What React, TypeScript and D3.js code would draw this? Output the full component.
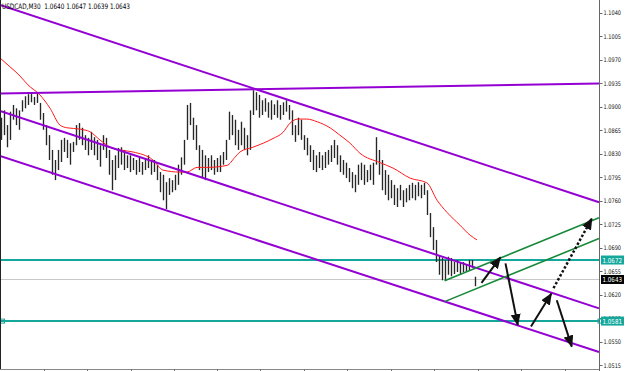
import React from "react";
import * as d3 from "d3";

// ---------- DATA ----------
const symbolTitle = "USDCAD,M30";
const ohlcText = ["1.0640", "1.0647", "1.0639", "1.0643"];

const highs = [
  1.0884, 1.0895, 1.0873, 1.0893, 1.0903, 1.0898, 1.0895, 1.0910, 1.0916, 1.0919,
  1.0921, 1.0915, 1.0921, 1.0906, 1.0891, 1.0873, 1.0858, 1.0836, 1.0821, 1.0836,
  1.0851, 1.0854, 1.0851, 1.0846, 1.0848, 1.0873, 1.0876, 1.0869, 1.0858, 1.0854,
  1.0863, 1.0855, 1.0851, 1.0843, 1.0858, 1.0854, 1.0836, 1.0821, 1.0828, 1.0839,
  1.0840, 1.0836, 1.0828, 1.0828, 1.0824, 1.0821, 1.0824, 1.0818, 1.0824, 1.0828,
  1.0821, 1.0821, 1.0814, 1.0803, 1.0799, 1.0788, 1.0794, 1.0791, 1.0799, 1.0814,
  1.0825, 1.0851, 1.0903, 1.0906, 1.0884, 1.0873, 1.0843, 1.0836, 1.0828, 1.0824,
  1.0828, 1.0821, 1.0824, 1.0828, 1.0833, 1.0851, 1.0893, 1.0888, 1.0881, 1.0866,
  1.0878, 1.0869, 1.0858, 1.0895, 1.0925, 1.0922, 1.0918, 1.0910, 1.0913, 1.0907,
  1.0910, 1.0904, 1.0910, 1.0903, 1.0907, 1.0910, 1.0903, 1.0895, 1.0873, 1.0884,
  1.0881, 1.0858, 1.0854, 1.0843, 1.0836, 1.0828, 1.0833, 1.0828, 1.0833, 1.0836,
  1.0843, 1.0851, 1.0843, 1.0828, 1.0821, 1.0817, 1.0809, 1.0803, 1.0799, 1.0814,
  1.0817, 1.0814, 1.0806, 1.0814, 1.0817, 1.0855, 1.0836, 1.0821, 1.0806, 1.0799,
  1.0791, 1.0784, 1.0779, 1.0784, 1.0776, 1.0779, 1.0784, 1.0787, 1.0784, 1.0788,
  1.0784, 1.0787, 1.0776, 1.0742, 1.0721, 1.0702, 1.0679, 1.0675, 1.0672, 1.0677,
  1.0675, 1.0669, 1.0672, 1.0668, 1.0669, 1.0665, 1.0672, 1.0672, 1.0647,
];
const lows = [
  1.0851, 1.0858, 1.0840, 1.0851, 1.0881, 1.0873, 1.0866, 1.0893, 1.0898, 1.0903,
  1.0907, 1.0903, 1.0906, 1.0881, 1.0866, 1.0843, 1.0821, 1.0799, 1.0791, 1.0806,
  1.0818, 1.0833, 1.0824, 1.0814, 1.0833, 1.0843, 1.0851, 1.0843, 1.0836, 1.0828,
  1.0836, 1.0828, 1.0821, 1.0811, 1.0836, 1.0824, 1.0799, 1.0776, 1.0791, 1.0809,
  1.0814, 1.0806, 1.0809, 1.0803, 1.0806, 1.0799, 1.0803, 1.0799, 1.0806, 1.0809,
  1.0799, 1.0803, 1.0791, 1.0773, 1.0761, 1.0748, 1.0769, 1.0773, 1.0776, 1.0784,
  1.0799, 1.0814, 1.0851, 1.0873, 1.0851, 1.0836, 1.0806, 1.0794, 1.0791, 1.0803,
  1.0806, 1.0799, 1.0803, 1.0803, 1.0814, 1.0821, 1.0851, 1.0858, 1.0843, 1.0836,
  1.0843, 1.0836, 1.0828, 1.0836, 1.0888, 1.0895, 1.0884, 1.0888, 1.0893, 1.0884,
  1.0881, 1.0888, 1.0884, 1.0881, 1.0888, 1.0893, 1.0881, 1.0858, 1.0848, 1.0858,
  1.0851, 1.0836, 1.0828, 1.0818, 1.0806, 1.0803, 1.0809, 1.0806, 1.0809, 1.0814,
  1.0818, 1.0824, 1.0814, 1.0803, 1.0799, 1.0794, 1.0788, 1.0779, 1.0773, 1.0784,
  1.0791, 1.0784, 1.0788, 1.0791, 1.0784, 1.0814, 1.0799, 1.0776, 1.0769, 1.0761,
  1.0764, 1.0754, 1.0751, 1.0761, 1.0751, 1.0758, 1.0761, 1.0764, 1.0761, 1.0767,
  1.0764, 1.0769, 1.0739, 1.0706, 1.0687, 1.0669, 1.0650, 1.0642, 1.0641, 1.0650,
  1.0648, 1.0651, 1.0654, 1.0650, 1.0654, 1.0654, 1.0657, 1.0660, 1.0633,
];

// moving average (bar index, price)
const maIdx = [
  -0.5, 2.8, 6.2, 8.8, 12.8, 16.2, 19.5, 21.8, 26.2, 29.5, 32.8, 36.2, 39.5, 43.8,
  50.5, 53.8, 59.5, 61.8, 65.2, 68.5, 75.2, 77.8, 79.5, 83.8, 87.2, 90.5, 93.8,
  96.2, 98.8, 101.8, 105.2, 109.5, 112.8, 116.2, 119.5, 126.2, 130.5, 136.2,
  141.8, 145.2, 148.5, 152.8, 156.2, 158.5,
];
const maVals = [
  1.0973, 1.0960, 1.0946, 1.0933, 1.0918, 1.0898, 1.0873, 1.0869, 1.0867, 1.0863,
  1.0851, 1.0840, 1.0836, 1.0833, 1.0821, 1.0806, 1.0803, 1.0803, 1.0810, 1.0810,
  1.0813, 1.0825, 1.0833, 1.0840, 1.0846, 1.0853, 1.0862, 1.0876, 1.0882, 1.0882,
  1.0878, 1.0869, 1.0858, 1.0846, 1.0831, 1.0817, 1.0809, 1.0794, 1.0787, 1.0761,
  1.0743, 1.0724, 1.0709, 1.0702,
];

// trend lines: [index1, price1, index2, price2]
const purpleLines = [
  [-0.5, 1.1052, 199.17, 1.0758],
  [-0.5, 1.092, 199.17, 1.0935],
  [-0.5, 1.0894, 199.17, 1.06],
  [-0.5, 1.0827, 199.17, 1.0535],
];
const greenLines = [
  [147.7, 1.0641, 199.17, 1.0735],
  [147.7, 1.061, 199.17, 1.0704],
];
const levels = [1.0672, 1.0581];
const bidPrice = 1.0643;

// arrows: [index1, price1, index2, price2]
const solidArrows = [
  [160.0, 1.0638, 166.3, 1.0676],
  [168.0, 1.0667, 172.1, 1.0575],
  [176.5, 1.0573, 183.3, 1.0622],
  [185.1, 1.0612, 190.1, 1.0543],
];
const dottedArrows = [[184.0, 1.063, 196.8, 1.0734]];

const priceTicks = [
  1.104, 1.1005, 1.097, 1.0935, 1.09, 1.0865, 1.083, 1.0795, 1.076, 1.0725,
  1.069, 1.0655, 1.062, 1.0585, 1.055, 1.0515,
];
const timeTicks = [
  14.13, 28.43, 43.06, 57.36, 71.99, 86.28, 100.9, 115.2, 129.8, 144.1, 158.8,
  173.1, 187.7,
];

// ---------- CHART ----------
const W = 625;
const H = 371;
const plotRight = 599.5;
const plotBottom = 369.5;

export default function App() {
  const x = d3.scaleLinear().domain([-0.5, 199.17]).range([0, 599]);
  const y = d3.scaleLinear().domain([1.0515, 1.104]).range([365.4, 13.0]);

  const maLine = d3
    .line<number>()
    .x((_, i) => x(maIdx[i]))
    .y((d) => y(d))
    .curve(d3.curveMonotoneX);

  const font = "'DejaVu Sans', Verdana, sans-serif";
  const purple = "#9400d3";
  const green = "#17893a";
  const teal = "#14a89d";

  const fmt = (v: number) => v.toFixed(4);
  const titleString = symbolTitle + "  " + ohlcText.join(" ");

  return (
    <svg
      width={W}
      height={H}
      style={{ position: "absolute", left: 0, top: 0, background: "#fff" }}
    >
      <defs>
        <clipPath id="plot">
          <rect x={0} y={0} width={plotRight} height={plotBottom} />
        </clipPath>
        <marker
          id="head"
          markerUnits="userSpaceOnUse"
          markerWidth={12}
          markerHeight={10}
          refX={11}
          refY={5}
          orient="auto"
        >
          <path d="M0,0 L12,5 L0,10 Z" fill="#111" />
        </marker>
      </defs>
      <rect x={0} y={0} width={W} height={H} fill="#fff" />

      <g clipPath="url(#plot)">
        {/* bid line */}
        <line x1={0} x2={plotRight} y1={y(bidPrice)} y2={y(bidPrice)} stroke="#c8c8c8" strokeWidth={1} />

        {/* horizontal levels */}
        {levels.map((v, k) => (
          <line key={"lv" + k} x1={0} x2={plotRight} y1={y(v)} y2={y(v)} stroke={teal} strokeWidth={2} />
        ))}
        <rect x={0.5} y={y(levels[1]) - 2} width={4} height={4} fill="none" stroke={teal} strokeWidth={1} />

        {/* price bars */}
        {highs.map((h, i) => (
          <line
            key={"b" + i}
            x1={x(i)}
            x2={x(i)}
            y1={y(h)}
            y2={y(lows[i])}
            stroke="#262626"
            strokeWidth={1.35}
          />
        ))}

        {/* moving average */}
        <path d={maLine(maVals) || ""} fill="none" stroke="#ff1a1a" strokeWidth={1} />

        {/* purple channel lines */}
        {purpleLines.map((l, k) => (
          <line key={"p" + k} x1={x(l[0])} y1={y(l[1])} x2={x(l[2])} y2={y(l[3])} stroke={purple} strokeWidth={2} />
        ))}

        {/* green channel */}
        {greenLines.map((l, k) => (
          <line key={"g" + k} x1={x(l[0])} y1={y(l[1])} x2={x(l[2])} y2={y(l[3])} stroke={green} strokeWidth={1.6} />
        ))}

        {/* arrows */}
        {solidArrows.map((a, k) => (
          <line
            key={"a" + k}
            x1={x(a[0])}
            y1={y(a[1])}
            x2={x(a[2])}
            y2={y(a[3])}
            stroke="#111"
            strokeWidth={2}
            markerEnd="url(#head)"
          />
        ))}
        {dottedArrows.map((a, k) => (
          <line
            key={"d" + k}
            x1={x(a[0])}
            y1={y(a[1])}
            x2={x(a[2])}
            y2={y(a[3])}
            stroke="#111"
            strokeWidth={2.5}
            strokeDasharray="2.5,2"
            markerEnd="url(#head)"
          />
        ))}
      </g>

      {/* frame */}
      <line x1={0.5} x2={0.5} y1={0} y2={plotBottom} stroke="#222" strokeWidth={1} />
      <line x1={0} x2={plotRight} y1={plotBottom} y2={plotBottom} stroke="#888" strokeWidth={1} />
      <line x1={plotRight} x2={plotRight} y1={0} y2={H} stroke="#666" strokeWidth={1} />

      {/* time ticks */}
      {timeTicks.map((t, k) => (
        <line key={"tt" + k} x1={Math.round(x(t)) + 0.5} x2={Math.round(x(t)) + 0.5} y1={plotBottom} y2={H} stroke="#666" strokeWidth={1} />
      ))}

      {/* price axis */}
      {priceTicks.map((v, k) => (
        <g key={"pt" + k}>
          <line x1={plotRight} x2={plotRight + 3} y1={Math.round(y(v)) + 0.5} y2={Math.round(y(v)) + 0.5} stroke="#666" />
          <text
            x={603.5}
            y={y(v) + 2.3}
            fontSize={6.3}
            fontFamily={font}
            fill="#111"
            textLength={17.5}
            lengthAdjust="spacingAndGlyphs"
          >
            {fmt(v)}
          </text>
        </g>
      ))}

      {/* level price boxes */}
      {levels.map((v, k) => (
        <g key={"lb" + k}>
          <rect x={601} y={y(v) - 4.5} width={23} height={9} fill={teal} />
          <text
            x={602.5}
            y={y(v) + 2.6}
            fontSize={6.8}
            fontFamily={font}
            fill="#fff"
            textLength={19.5}
            lengthAdjust="spacingAndGlyphs"
          >
            {fmt(v)}
          </text>
        </g>
      ))}
      <rect x={598} y={y(levels[1]) - 2} width={4} height={4} fill="none" stroke={teal} strokeWidth={1} />
      <g>
        <rect x={601} y={y(bidPrice) - 4.5} width={23} height={9} fill="#000" />
        <text
          x={602.5}
          y={y(bidPrice) + 2.6}
          fontSize={6.8}
          fontFamily={font}
          fill="#fff"
          textLength={19.5}
          lengthAdjust="spacingAndGlyphs"
        >
          {fmt(bidPrice)}
        </text>
      </g>

      {/* title */}
      <text
        x={2}
        y={9}
        fontSize={7.5}
        fontFamily={font}
        fill="#000"
        textLength={128}
        lengthAdjust="spacingAndGlyphs"
        style={{ whiteSpace: "pre" }}
      >
        {titleString}
      </text>
    </svg>
  );
}
